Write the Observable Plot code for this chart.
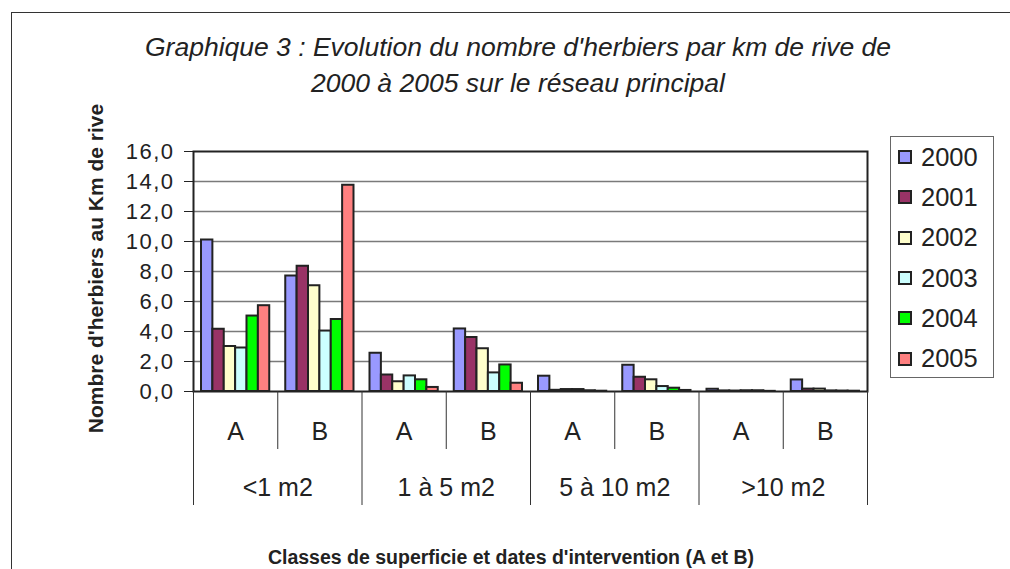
<!DOCTYPE html>
<html><head><meta charset="utf-8">
<script src="https://cdn.jsdelivr.net/npm/d3@7"></script>
<script src="https://cdn.jsdelivr.net/npm/@observablehq/plot@0.6"></script>
<style>
body{margin:0;background:#fff;font-family:"Liberation Sans",Arial,sans-serif;}
#wrap{position:relative;width:1010px;height:569px;overflow:hidden;background:#fff;}
#frame{position:absolute;left:11px;top:12px;width:1100px;height:700px;border:1.5px solid #333;}
#title{position:absolute;left:0;width:1036px;top:29px;text-align:center;font-style:italic;font-size:26.5px;line-height:36px;color:#222;}
#legend{position:absolute;left:890px;top:136px;width:104px;height:242px;border:1.5px solid #666;box-sizing:border-box;padding-top:0px;}
.item{height:40.3px;display:flex;align-items:center;font-size:25.5px;color:#222;}
.sw{width:10px;height:10px;border:2px solid #222;margin-left:7px;margin-right:9px;}
#chart{position:absolute;left:0;top:0;}
#chart svg g[aria-label="y-axis tick label"] text{letter-spacing:1.5px;}
#xtitle{position:absolute;left:12px;width:998px;top:546px;text-align:center;font-weight:bold;font-size:19.5px;color:#222;}
</style></head><body>
<div id="wrap"><div id="frame"></div>
<div id="title">Graphique 3 : Evolution du nombre d'herbiers par km de rive de<br>2000 à 2005 sur le réseau principal</div>
<div id="chart"></div><div id="legend"></div><div id="xtitle"></div></div>
<script>
const classes = ["<1 m2", "1 à 5 m2", "5 à 10 m2", ">10 m2"];
const periods = ["A", "B"];
const years = ["2000", "2001", "2002", "2003", "2004", "2005"];
const colors = ["#9999FF", "#993366", "#FFFFCC", "#CCFFFF", "#00FF00", "#FF8080"];
const yTicks = [0, 2, 4, 6, 8, 10, 12, 14, 16];
// values per year, in order: <1 A, <1 B, 1-5 A, 1-5 B, 5-10 A, 5-10 B, >10 A, >10 B
const v2000 = [10.1, 7.7, 2.55, 4.17, 1.02, 1.75, 0.15, 0.77];
const v2001 = [4.15, 8.35, 1.1, 3.6, 0.08, 0.95, 0.04, 0.16];
const v2002 = [3.0, 7.05, 0.65, 2.85, 0.13, 0.78, 0.03, 0.16];
const v2003 = [2.9, 4.03, 1.04, 1.24, 0.13, 0.33, 0.05, 0.04];
const v2004 = [5.03, 4.8, 0.78, 1.77, 0.05, 0.22, 0.05, 0.03];
const v2005 = [5.72, 13.75, 0.27, 0.55, 0.02, 0.07, 0.01, 0.02];
const yLabel = "Nombre d'herbiers au Km de rive";
const xLabel = "Classes de superficie et dates d'intervention (A et B)";

const series = [v2000, v2001, v2002, v2003, v2004, v2005];
const groups = classes.flatMap(c => periods.map(p => ({cls: c, period: p})));
const bw = 0.135, pad = (1 - years.length * bw) / 2;
const data = years.flatMap((yr, j) => series[j].map((v, i) => ({year: yr, group: i, slot: j, value: v})));

const H = 569, mT = 151, mB = H - 391;
const unit = (H - mT - mB) / 16; // px per unit
const fmt = d => d3.format(".1f")(d).replace(".", ",");

const plot = Plot.plot({
  width: 1010, height: H,
  marginLeft: 193, marginRight: 143, marginTop: mT, marginBottom: mB,
  x: {domain: [0, 8], axis: null},
  y: {domain: [0, 16], ticks: yTicks, tickFormat: fmt, tickSize: 9, tickPadding: 10, label: null},
  color: {domain: years, range: colors},
  style: {fontFamily: "Liberation Sans, Arial, sans-serif", fontSize: "22px", color: "#222", background: "transparent", overflow: "visible"},
  marks: [
    Plot.ruleY(yTicks.slice(1, -1), {stroke: "#7a7a7a", strokeWidth: 1.4}),
    Plot.rectY(data, {
      x1: d => d.group + pad + d.slot * bw,
      x2: d => d.group + pad + (d.slot + 1) * bw,
      y1: 0, y2: "value", fill: "year", stroke: "#222", strokeWidth: 2
    }),
    Plot.frame({stroke: "#222", strokeWidth: 2}),
    Plot.ruleX(d3.range(9), {y1: 0, y2: i => (i % 2 === 0 ? -114 : -58) / unit, stroke: "#333", strokeWidth: 1}),
    Plot.text(groups, {x: (d, i) => i + 0.5, y: 0, dy: 40, text: "period", fontSize: 25, fill: "#222"}),
    Plot.text(classes, {x: (d, i) => 2 * i + 1, y: 0, dy: 96, text: d => d, fontSize: 25, fill: "#222"}),
    Plot.text([yLabel], {frameAnchor: "left", textAnchor: "middle", rotate: -90, dx: -97, dy: -3, fontWeight: "bold", fontSize: 21, fill: "#222"})
  ]
});
document.getElementById("chart").appendChild(plot);
document.getElementById("xtitle").textContent = xLabel;

const leg = document.getElementById("legend");
years.forEach((y, i) => {
  const it = document.createElement("div");
  it.className = "item";
  const sw = document.createElement("div");
  sw.className = "sw"; sw.style.background = colors[i];
  it.appendChild(sw);
  it.appendChild(document.createTextNode(y));
  leg.appendChild(it);
});
</script>
</body></html>
